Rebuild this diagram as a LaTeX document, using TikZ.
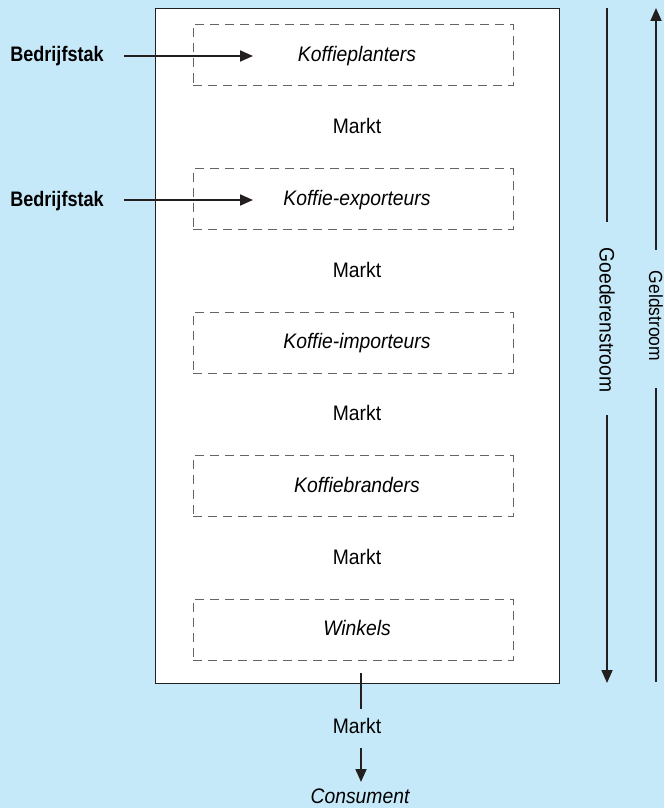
\documentclass[tikz,border=0pt]{standalone}
\usepackage{fontspec}
\setmainfont{Liberation Sans}[FakeStretch=0.92]
\newfontfamily\branchfont{Liberation Sans}[FakeStretch=0.86]
\usepackage{xcolor}
\usetikzlibrary{arrows.meta}
\definecolor{skyback}{RGB}{198,233,249}
\definecolor{inkline}{RGB}{35,31,32}
\definecolor{dashgray}{RGB}{100,100,100}

\tikzset{
  stage/.style={draw=dashgray, dash pattern=on 9pt off 6pt, line width=0.9pt,
    minimum width=320pt, minimum height=61pt},
  label/.style={anchor=base, inner sep=0pt, font=\fontsize{21}{24}\selectfont\itshape},
  market/.style={anchor=base, inner sep=0pt, font=\fontsize{21}{24}\selectfont},
  branch/.style={anchor=base, inner sep=0pt, font=\branchfont\fontsize{21}{24}\selectfont\bfseries},
  flow/.style={inner sep=0pt, rotate=-90},
  arr/.style={line width=1.8pt, draw=inkline, -{Triangle[length=13pt,width=11pt]}},
  plain/.style={line width=1.8pt, draw=inkline}
}

\begin{document}
\begin{tikzpicture}[x=1pt, y=-1pt]
  % Background
  \fill[skyback] (0,0) rectangle (664,808);
  \useasboundingbox (0,0) rectangle (664,808);

  % Frame
  \node[draw=inkline, fill=white, line width=0.8pt, minimum width=404pt, minimum height=675pt,
    inner sep=0pt] (frame) at (357,345.5) {};

  % Stages
  \node[stage] (box1) at (353,55) {};
  \node[stage] (box2) at (353,199) {};
  \node[stage] (box3) at (353,342.5) {};
  \node[stage] (box4) at (353,486) {};
  \node[stage] (box5) at (353,629.5) {};
  \node[label] (planters) at (357,62) {Koffieplanters};
  \node[label] (exporters) at (357,205) {Koffie-exporteurs};
  \node[label] (importers) at (357,348) {Koffie-importeurs};
  \node[label] (roasters) at (357,492) {Koffiebranders};
  \node[label] (shops) at (357,635) {Winkels};

  % Markets
  \node[market] (m1) at (357,133) {Markt};
  \node[market] (m2) at (357,277) {Markt};
  \node[market] (m3) at (357,420) {Markt};
  \node[market] (m4) at (357,564) {Markt};
  \node[market] (m5) at (357,733) {Markt};
  \node[label] (consumer) at (360,803) {Consument};

  % Branch arrows
  \node[branch] (b1) at (57,62) {Bedrijfstak};
  \node[branch] (b2) at (57,206) {Bedrijfstak};
  \coordinate (s1) at (124,56);
  \coordinate (s2) at (124,200);
  \coordinate (t1) at (253,56);
  \coordinate (t2) at (253,200);
  \draw[arr] (s1) -- (t1);
  \draw[arr] (s2) -- (t2);

  % Towards consumer
  \coordinate (c1) at (361,673);
  \coordinate (c2) at (361,709);
  \coordinate (c3) at (361,748);
  \coordinate (c4) at (361,782);
  \draw[plain] (c1) -- (c2);
  \draw[arr] (c3) -- (c4);

  % Flows
  \node[flow, font=\fontsize{21}{24}\selectfont] (goods) at (607,320) {Goederenstroom};
  \node[flow, font=\fontsize{19}{22}\selectfont] (money) at (656,316) {Geldstroom};
  \coordinate (gtop) at (607,8);
  \coordinate (gmid1) at (607,222);
  \coordinate (gmid2) at (607,415);
  \coordinate (gbot) at (607,683);
  \coordinate (mtop) at (656,8);
  \coordinate (mmid1) at (656,250);
  \coordinate (mmid2) at (656,388);
  \coordinate (mbot) at (656,682);
  \draw[plain] (gtop) -- (gmid1);
  \draw[arr] (gmid2) -- (gbot);
  \draw[plain] (mbot) -- (mmid2);
  \draw[arr] (mmid1) -- (mtop);
\end{tikzpicture}
\end{document}
